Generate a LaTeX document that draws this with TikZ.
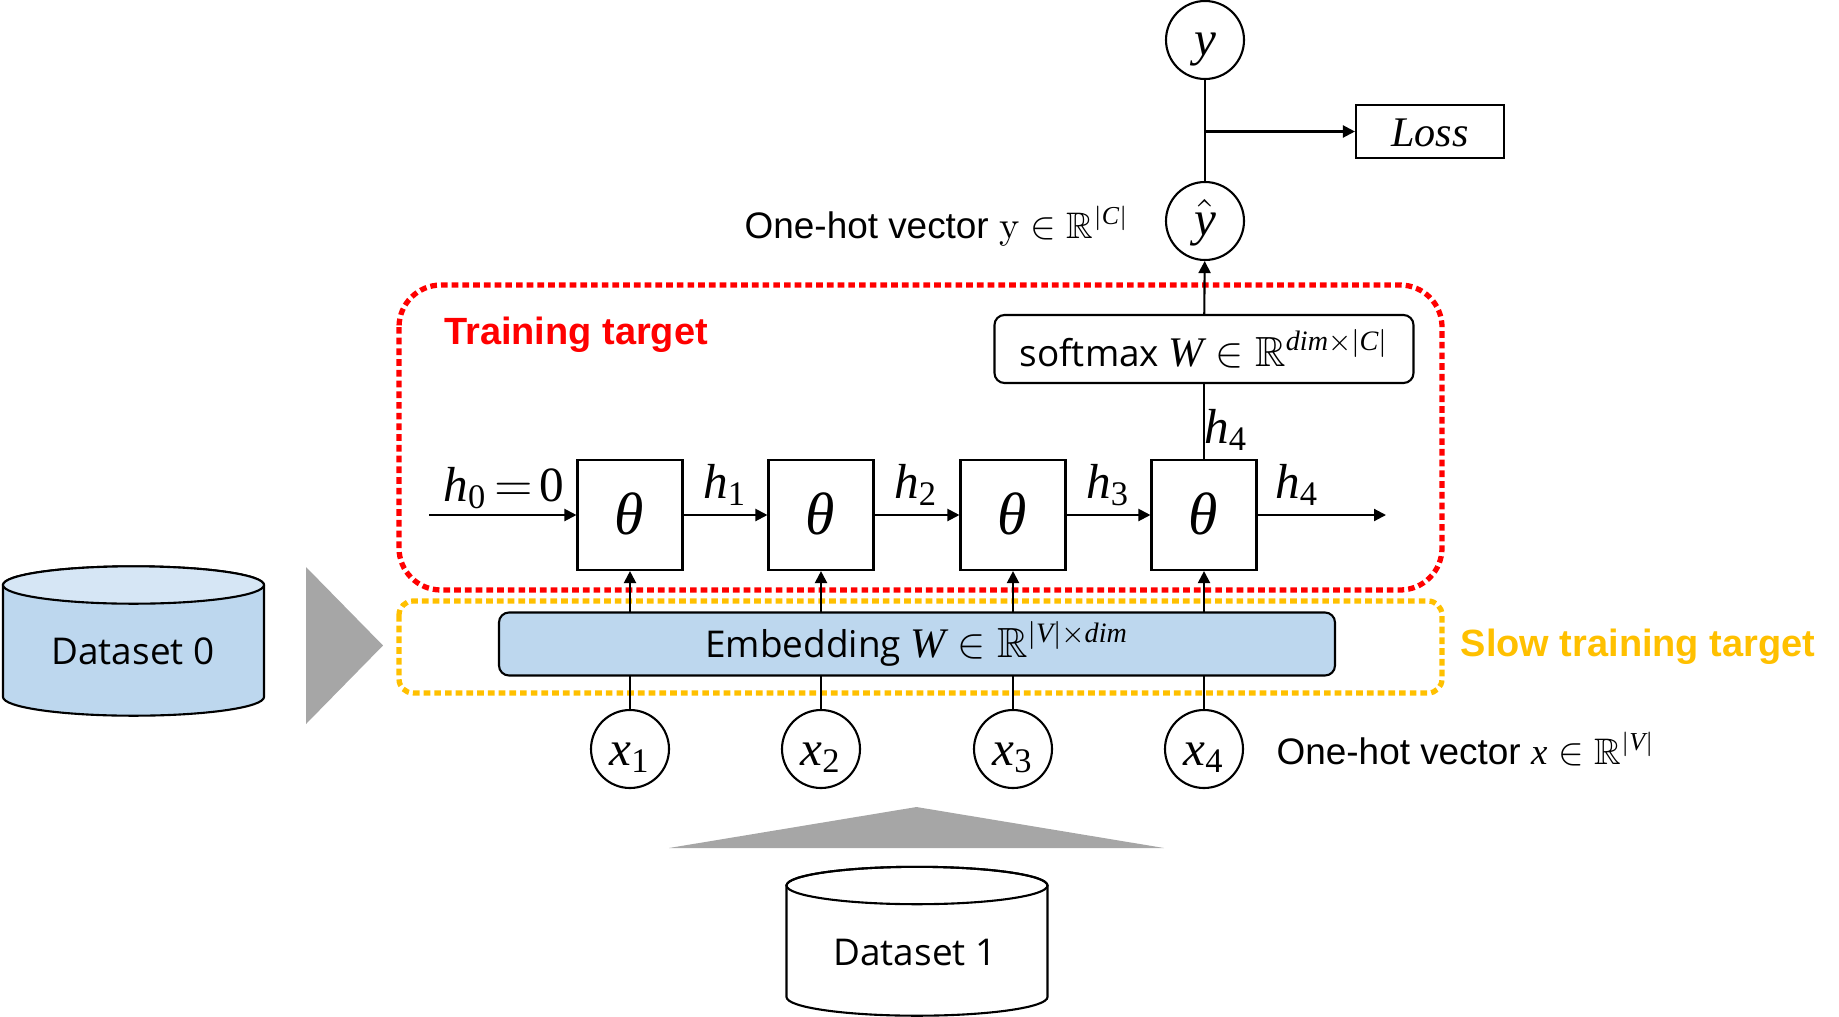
\documentclass[tikz,border=0pt]{standalone}
\usepackage{amssymb}
\usepackage{mathspec}
\setmainfont{Liberation Sans}
\setmathfont(Digits,Latin,Greek){Liberation Serif}
\newfontfamily\boxfont{Open Sans}
\usetikzlibrary{arrows.meta}
\definecolor{lightblue}{HTML}{BDD7EE}
\definecolor{paleblue}{HTML}{D6E6F5}
\definecolor{slowyellow}{HTML}{FFC000}
\definecolor{wedgegray}{HTML}{A6A6A6}
\newcommand{\drop}[2]{\raisebox{-#1}[0pt][0pt]{$#2$}}
\newcommand{\bigmath}[1]{{\fontsize{12}{14}\selectfont $#1$}}
\begin{document}
\begin{tikzpicture}[line width=0.6pt,
        main/.style = {draw, circle, minimum size=0.78cm, inner sep=0pt, font=\fontsize{14}{16}\selectfont},
        cell/.style = {draw, rectangle, minimum width=1.05cm, minimum height=1.1cm, inner sep=0pt, font=\fontsize{17}{19}\selectfont},
        lab/.style = {inner sep=0pt, font=\fontsize{14}{16}\selectfont},
        note/.style = {inner sep=0pt, font=\fontsize{10.5}{12}\selectfont},
        layer/.style = {draw, rectangle, rounded corners=0.1cm, inner sep=0pt, font=\boxfont\fontsize{10.5}{12}\selectfont},
        store/.style = {inner sep=0pt, font=\boxfont\fontsize{10.5}{12}\selectfont},
        arr/.style = {-{Triangle[length=0.12cm,width=0.12cm]}},
        zone/.style = {line width=1.5pt, dash pattern=on 1.9pt off 1.15pt}]
        \useasboundingbox (0,0) rectangle (18.39,-10.16);
        % target regions
        \draw[zone, red, rounded corners=0.42cm] (3.99,-2.85) rectangle (14.42,-5.90);
        \draw[zone, slowyellow, rounded corners=0.14cm] (3.99,-6.01) rectangle (14.42,-6.93);
        \node[note, font=\bfseries\fontsize{10.8}{12}\selectfont, text=red] (2) at (5.76,-3.35) {Training target};
        \node[note, font=\bfseries\fontsize{10.8}{12}\selectfont, text=slowyellow] (3) at (16.38,-6.47) {Slow training target};
        % inputs and cells
        \node[main] (x1) at (6.30,-7.49) {\drop{0.16cm}{x_1}};
        \node[main] (x2) at (8.21,-7.49) {\drop{0.16cm}{x_2}};
        \node[main] (x3) at (10.13,-7.49) {\drop{0.16cm}{x_3}};
        \node[main] (x4) at (12.04,-7.49) {\drop{0.16cm}{x_4}};
        \node[cell] (t1) at (6.30,-5.15) {\drop{0.19cm}{\theta}};
        \node[cell] (t2) at (8.21,-5.15) {\drop{0.19cm}{\theta}};
        \node[cell] (t3) at (10.13,-5.15) {\drop{0.19cm}{\theta}};
        \node[cell] (t4) at (12.04,-5.15) {\drop{0.19cm}{\theta}};
        \draw[arr] (x1) -- (t1);
        \draw[arr] (x2) -- (t2);
        \draw[arr] (x3) -- (t3);
        \draw[arr] (x4) -- (t4);
        \node[layer, fill=lightblue, minimum width=8.36cm, minimum height=0.63cm] (emb) at (9.17,-6.44) {Embedding \bigmath{W\in\mathbb{R}^{|V|\times dim}}};
        \coordinate (h0) at (4.29,-5.15);
        \coordinate (h5) at (13.86,-5.15);
        \draw[arr] (h0) -- (t1);
        \draw[arr] (t1) -- (t2);
        \draw[arr] (t2) -- (t3);
        \draw[arr] (t3) -- (t4);
        \draw[arr] (t4) -- (h5);
        \node[lab] (l0) at (5.04,-4.88) {$h_0\mkern-2.5mu=\mkern-2.5mu0$};
        \node[lab] (l1) at (7.25,-4.85) {$h_1$};
        \node[lab] (l2) at (9.16,-4.85) {$h_2$};
        \node[lab] (l3) at (11.08,-4.85) {$h_3$};
        \node[lab] (l4) at (12.97,-4.85) {$h_4$};
        \node[lab] (l5) at (12.26,-4.30) {$h_4$};
        % output side
        \node[layer, minimum width=4.19cm, minimum height=0.68cm] (soft) at (12.04,-3.49) {\raisebox{0.02cm}{softmax \bigmath{W\in\mathbb{R}^{dim\times|C|}}}};
        \node[main] (yh) at (12.05,-2.21) {\drop{0.14cm}{\hat{y}}};
        \node[main] (y) at (12.05,-0.40) {\drop{0.15cm}{y}};
        \node[draw, rectangle, minimum width=1.48cm, minimum height=0.53cm, inner sep=0pt, font=\fontsize{12}{14}\selectfont] (loss) at (14.30,-1.315) {\drop{0.145cm}{Loss}};
        \coordinate (j) at (12.05,-1.315);
        \draw (t4) -- (soft);
        \draw[arr] (soft) -- (yh);
        \draw (yh) -- (y);
        \draw[arr] (j) -- (loss);
        \node[note] (n1) at (9.37,-2.26) {One-hot vector $\mathrm{y}\in\mathbb{R}^{|C|}$};
        \node[note] (n2) at (14.66,-7.49) {One-hot vector $x\in\mathbb{R}^{|V|}$};
        % datasets
        \draw[fill=lightblue] (0.03,-5.85) -- (0.03,-6.97) arc (180:360:1.305 and 0.187) -- (2.64,-5.85) arc (0:180:1.305 and 0.187) -- cycle;
        \draw[fill=paleblue] (1.335,-5.85) ellipse (1.305 and 0.187);
        \node[store] (d0) at (1.33,-6.51) {Dataset 0};
        \draw (7.865,-8.855) -- (7.865,-9.97) arc (180:360:1.305 and 0.187) -- (10.475,-8.855) arc (0:180:1.305 and 0.187) -- cycle;
        \draw (9.17,-8.855) ellipse (1.305 and 0.187);
        \node[store] (d1) at (9.15,-9.52) {Dataset 1};
        \fill[wedgegray] (3.06,-5.67) -- (3.83,-6.455) -- (3.06,-7.24) -- cycle;
        \fill[wedgegray] (6.69,-8.48) -- (9.165,-8.07) -- (11.64,-8.48) -- cycle;
        \end{tikzpicture}
\end{document}
